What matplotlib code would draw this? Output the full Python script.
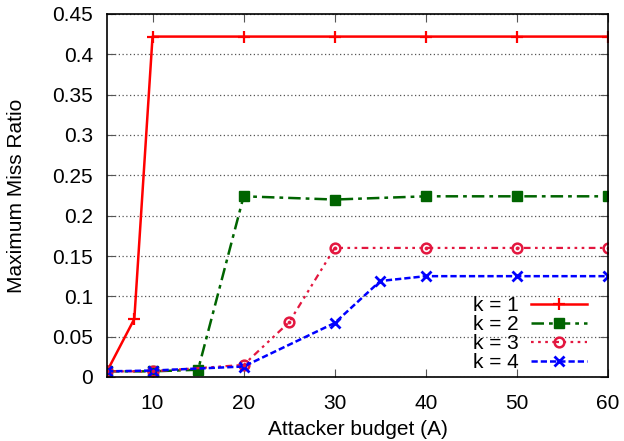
import matplotlib
matplotlib.use("Agg")
import matplotlib.pyplot as plt

plt.rcParams['font.family'] = ['Liberation Sans', 'DejaVu Sans']

x_k1 = [5, 8, 10, 20, 30, 40, 50, 60]
y_k1 = [0.007, 0.072, 0.422, 0.422, 0.422, 0.422, 0.422, 0.422]
x_k2 = [5, 10, 15, 20, 30, 40, 50, 60]
y_k2 = [0.007, 0.007, 0.009, 0.224, 0.220, 0.224, 0.224, 0.224]
x_k3 = [5, 10, 20, 25, 30, 40, 50, 60]
y_k3 = [0.007, 0.007, 0.015, 0.068, 0.160, 0.160, 0.160, 0.160]
x_k4 = [5, 10, 20, 30, 35, 40, 50, 60]
y_k4 = [0.007, 0.008, 0.013, 0.067, 0.119, 0.125, 0.125, 0.125]
labels = ['k = 1', 'k = 2', 'k = 3', 'k = 4']
xticks = [10, 20, 30, 40, 50, 60]
yticks = [0, 0.05, 0.1, 0.15, 0.2, 0.25, 0.3, 0.35, 0.4, 0.45]
ytick_labels = ['0', '0.05', '0.1', '0.15', '0.2', '0.25', '0.3', '0.35', '0.4', '0.45']

FS = 15
fig = plt.figure(figsize=(6.24, 4.41), dpi=100)
ax = fig.add_axes([107/624, 1 - 377/441, (608-107)/624, (377-14)/441])

ax.plot(x_k1, y_k1, color='#ff0000', lw=1.8, marker='+', ms=9, mew=1.6, label=labels[0])
ax.plot(x_k2, y_k2, color='#006400', lw=1.8, ls=(0, (5, 2, 1.5, 2)), marker='s', ms=6.5, label=labels[1])
ax.plot(x_k3, y_k3, color='#e3173f', lw=1.6, ls=(0, (1.2, 2, 1.2, 2, 1.2, 2, 3, 2)), marker='o', ms=7,
        mfc='none', mew=1.8, label=labels[2])
ax.plot(x_k4, y_k4, color='#0000ff', lw=1.8, ls=(0, (2.5, 1.2)), marker='x', ms=7, mew=2.0, label=labels[3])

# inner dot for circle markers
ax.plot(x_k3, y_k3, ls='none', marker='o', ms=2.2, mfc='#e3173f', mec='#e3173f', mew=0.5)

ax.set_xlim(5, 60)
ax.set_ylim(0, 0.45)
ax.set_xticks(xticks)
ax.set_yticks(yticks)
ax.set_yticklabels(ytick_labels)
ax.tick_params(direction='in', top=True, right=True, labelsize=FS, length=6, color='#555555', pad=10)
ax.tick_params(axis='x', pad=12)
ax.yaxis.grid(True, ls=(0, (1, 2)), color='#555555', lw=0.9)
for s in ax.spines.values():
    s.set_linewidth(1.2)
ax.set_xlabel('Attacker budget (A)', fontsize=FS, labelpad=5)
ax.set_ylabel('Maximum Miss Ratio', fontsize=FS, labelpad=19)

leg = ax.legend(loc='lower right', bbox_to_anchor=(0.971, -0.004), frameon=False, markerfirst=False,
                fontsize=FS, handlelength=2.7, labelspacing=0.0, borderpad=0.3, borderaxespad=0.0,
                handletextpad=0.6)

fig.savefig('out.png', dpi=100)
